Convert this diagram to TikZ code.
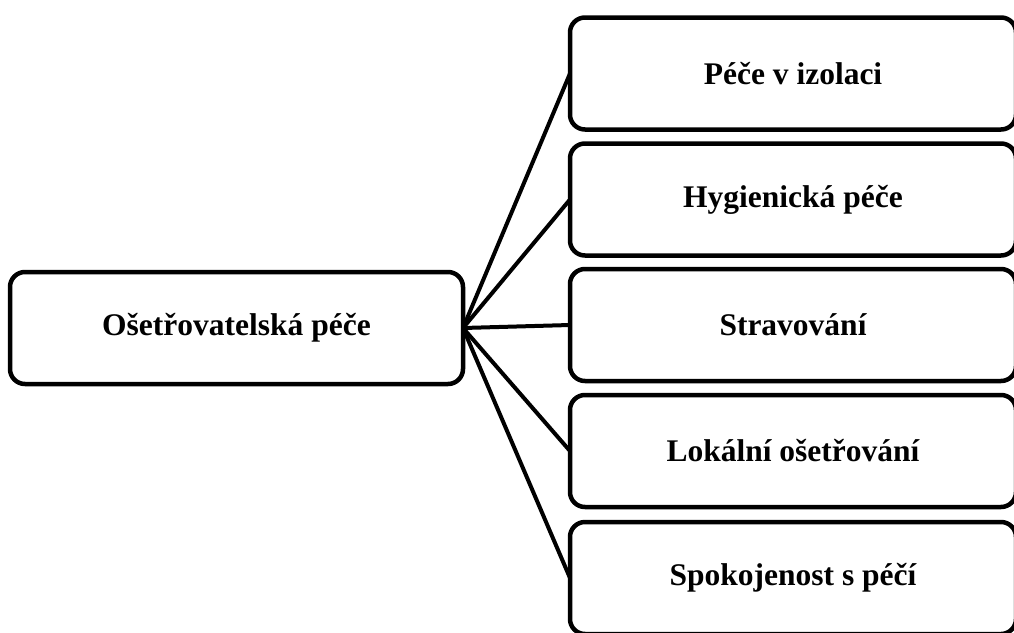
\documentclass[tikz,border=0pt]{standalone}
\usepackage{fontspec}
\setmainfont{Liberation Serif}
% box label, set a little below the centre line
\newcommand{\boxlabel}[1]{\raisebox{-3.5pt}{#1}}
\begin{document}
\begin{tikzpicture}[x=1pt,y=-1pt,
  box/.style={draw, line width=4.5pt, rounded corners=15pt, inner sep=0pt, outer sep=0pt,
    minimum height=112pt, font=\bfseries\fontsize{31.5}{36}\selectfont},
  leftbox/.style={box, minimum width=453pt},
  rightbox/.style={box, minimum width=446pt},
  link/.style={line width=4pt}]
\useasboundingbox (0,0) rectangle (1014,632);
\clip (0,0) rectangle (1014,632);

\node[leftbox] (hub) at (236.5,328) {\boxlabel{Ošetřovatelská péče}};

\node[rightbox] (b1) at (793,73.5) {\boxlabel{Péče v izolaci}};
\node[rightbox] (b2) at (793,199.5) {\boxlabel{Hygienická péče}};
\node[rightbox] (b3) at (793,325) {\boxlabel{Stravování}};
\node[rightbox] (b4) at (793,451) {\boxlabel{Lokální ošetřování}};
\node[rightbox] (b5) at (793,578) {\boxlabel{Spokojenost s péčí}};

\foreach \b in {b1,b2,b3,b4,b5}
  \draw[link] (hub.east) -- (\b.west);
\end{tikzpicture}
\end{document}
